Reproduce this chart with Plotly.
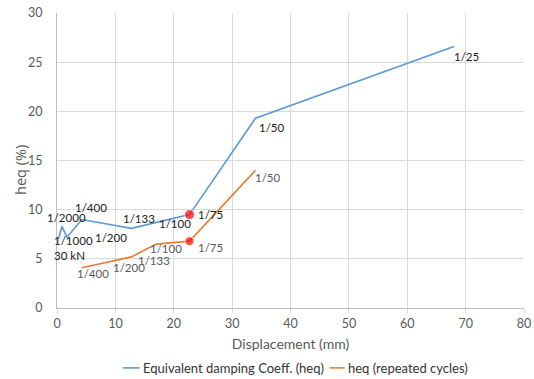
import plotly.graph_objects as go

# Data
blue_x = [0.3, 0.85, 1.7, 4.25, 12.75, 22.7, 34, 68]
blue_y = [7.1, 8.3, 7.2, 9.0, 8.1, 9.5, 19.3, 26.6]
orange_x = [4.25, 12.75, 17, 22.7, 34]
orange_y = [4.1, 5.2, 6.5, 6.8, 14.0]
red_x = [22.7, 22.7]
red_y = [9.5, 6.8]

series_names = ["Equivalent damping Coeff. (heq)", "heq (repeated cycles)"]

# labels: (text, anchor index, xshift, yshift)
blue_labels = [
    ("1/2000", 1, 5, 9),
    ("1/1000<br>30 kN", 2, 7, -11),
    ("1/400", 3, 9, 12),
    ("1/200", 4, -20, -9),
    ("1/133", 4, 8, 10),
    ("1/100", 5, -15, -9),
    ("1/75", 5, 21, 0),
    ("1/50", 6, 17, -9),
    ("1/25", 7, 13, -10),
]
orange_labels = [
    ("1/400", 0, 11, -6),
    ("1/200", 1, -2, -11),
    ("1/133", 1, 23, -4),
    ("1/100", 2, 10, -4),
    ("1/75", 3, 21, -6),
    ("1/50", 4, 13, -7),
]

BLUE = "#5b9bd5"
ORANGE = "#ed7d31"
GREY = "#595959"
FONT = "Lato"

fig = go.Figure()
fig.add_trace(go.Scatter(x=blue_x, y=blue_y, mode="lines",
                         line=dict(color=BLUE, width=1.6),
                         name=series_names[0], showlegend=False))
fig.add_trace(go.Scatter(x=orange_x, y=orange_y, mode="lines",
                         line=dict(color=ORANGE, width=1.6),
                         name=series_names[1], showlegend=False))
fig.add_trace(go.Scatter(x=red_x, y=red_y, mode="markers",
                         marker=dict(color="#ff0000", size=[10, 9]),
                         showlegend=False, hoverinfo="skip"))

ann = []
for txt, i, dx, dy in blue_labels:
    ann.append(dict(x=blue_x[i], y=blue_y[i], text=txt, showarrow=False,
                    xshift=dx, yshift=dy, align="left",
                    font=dict(family=FONT, size=11.5, color="#1a1a1a")))
for txt, i, dx, dy in orange_labels:
    ann.append(dict(x=orange_x[i], y=orange_y[i], text=txt, showarrow=False,
                    xshift=dx, yshift=dy,
                    font=dict(family=FONT, size=11.5, color=GREY)))

# y axis title placed like the reference
ann.append(dict(xref="paper", yref="paper", x=-0.077, y=0.468,
                text="heq (%)", textangle=-90, showarrow=False,
                xanchor="center", yanchor="middle",
                font=dict(family="Open Sans", size=14.5, color=GREY)))

# custom compact legend (short swatches like the reference)
shapes = []
leg_y = -0.203
for (x0, x1, xt), name, col in zip([(0.141, 0.177, 0.181), (0.584, 0.616, 0.620)],
                                   series_names, [BLUE, ORANGE]):
    shapes.append(dict(type="line", xref="paper", yref="paper", x0=x0, x1=x1,
                       y0=leg_y, y1=leg_y, line=dict(color=col, width=1.6)))
    ann.append(dict(xref="paper", yref="paper", x=xt, y=leg_y, text=name,
                    showarrow=False, xanchor="left", yanchor="middle", borderpad=0,
                    font=dict(family=FONT, size=13, color="#333333")))

fig.update_layout(
    width=534, height=379,
    margin=dict(l=57, r=10, t=13, b=71),
    paper_bgcolor="white", plot_bgcolor="white",
    font=dict(family=FONT, size=12, color=GREY),
    annotations=ann, shapes=shapes,
    showlegend=False,
    xaxis=dict(range=[0, 80], dtick=10, showgrid=True, gridcolor="#d9d9d9",
               zeroline=False, showline=True, linecolor="#bfbfbf",
               ticks="outside", ticklen=4, tickcolor="#d9d9d9",
               automargin=False,
               tickfont=dict(size=12.5, color=GREY),
               title=dict(text="Displacement (mm)", standoff=9,
                          font=dict(size=14, color=GREY))),
    yaxis=dict(range=[0, 30], dtick=5, showgrid=True, gridcolor="#d9d9d9",
               zeroline=False, showline=True, linecolor="#bfbfbf",
               ticklabelstandoff=11, automargin=False,
               tickfont=dict(size=12.5, color=GREY)),
)

fig.write_html("out.html")
